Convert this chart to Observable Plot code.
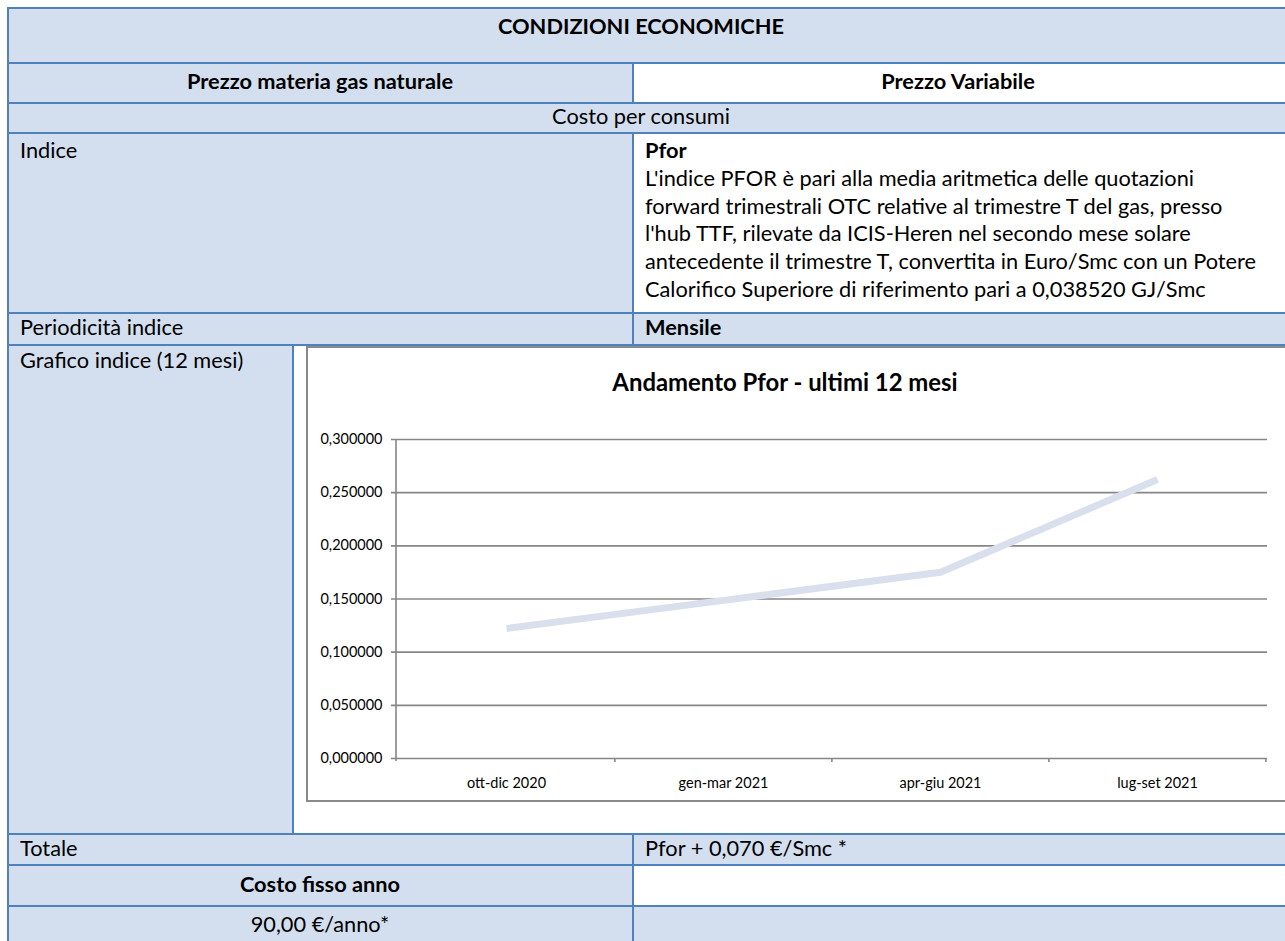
<!DOCTYPE html>
<html><head><meta charset="utf-8">
<script src="https://cdn.jsdelivr.net/npm/d3@7"></script>
<script src="https://cdn.jsdelivr.net/npm/@observablehq/plot@0.6"></script>
<style>
html,body{margin:0;padding:0;background:#fff;overflow:hidden;width:1285px;height:941px;}
#page{position:relative;width:1285px;height:941px;overflow:hidden;font-family:Lato,"Noto Sans",sans-serif;color:#000;}
.cell{position:absolute;box-sizing:border-box;border:2px solid #4f81bd;background:#d3dfee;}
.cell.w{background:#fff;}
.t{position:absolute;white-space:nowrap;}
#frame{position:absolute;box-sizing:border-box;border:2px solid #898989;background:#fff;}
#chart{position:absolute;}
</style></head><body><div id="page"></div>
<script>
// ---- data ----
const periods = ["ott-dic 2020", "gen-mar 2021", "apr-giu 2021", "lug-set 2021"];
const pforValues = [0.1223, 0.1487, 0.1752, 0.2624];
const yTickValues = [0, 0.05, 0.10, 0.15, 0.20, 0.25, 0.30];
const chartTitle = "Andamento Pfor - ultimi 12 mesi";
const headerTitle = "CONDIZIONI ECONOMICHE";
const headerLeft = "Prezzo materia gas naturale";
const headerRight = "Prezzo Variabile";
const sectionTitle = "Costo per consumi";
const rowLabels = ["Indice", "Periodicità indice", "Grafico indice (12 mesi)", "Totale"];
const indexName = "Pfor";
const indexDescription = [
  "L'indice PFOR è pari alla media aritmetica delle quotazioni",
  "forward trimestrali OTC relative al trimestre T del gas, presso",
  "l'hub TTF, rilevate da ICIS-Heren nel secondo mese solare",
  "antecedente il trimestre T, convertita in Euro/Smc con un Potere",
  "Calorifico Superiore di riferimento pari a 0,038520 GJ/Smc"
];
const periodicity = "Mensile";
const totalFormula = "Pfor + 0,070 €/Smc *";
const fixedCostLabel = "Costo fisso anno";
const fixedCostValue = "90,00 €/anno*";

// ---- helpers ----
const page = document.getElementById("page");
const FONT = "Lato";
function fit(text, weight, target) {
  const ctx = document.createElement("canvas").getContext("2d");
  ctx.font = `${weight} 100px ${FONT}`;
  return 100 * target / ctx.measureText(text).width;
}
const bodySize = fit(indexDescription[3], 400, 612);
const titleSize = fit(chartTitle, 700, 346);
const tickSize = (fit("0,300000", 400, 63) + fit("ott-dic 2020", 400, 78)) / 2;

function cell(x0, y0, x1, y1, white) {
  const d = document.createElement("div");
  d.className = "cell" + (white ? " w" : "");
  d.style.left = (x0 - 1) + "px";
  d.style.top = (y0 - 1) + "px";
  d.style.width = (x1 - x0 + 2) + "px";
  d.style.height = (y1 - y0 + 2) + "px";
  page.appendChild(d);
}
function text(str, x, y, opts = {}) {
  const size = opts.size || bodySize;
  const d = document.createElement("div");
  d.className = "t";
  d.textContent = str;
  d.style.fontSize = size + "px";
  d.style.fontWeight = opts.bold ? 700 : 400;
  d.style.lineHeight = size + "px";
  d.style.top = (y - size * 0.55) + "px";
  d.style.left = x + "px";
  if (opts.center) d.style.transform = "translateX(-50%)";
  page.appendChild(d);
}

// ---- table layout ----
const L = 8, M = 633, S = 293, R = 1292;
const Y = [8, 63, 103, 133, 313, 345, 834, 865, 906, 947];
cell(L, Y[0], R, Y[1]);
cell(L, Y[1], M, Y[2]); cell(M, Y[1], R, Y[2], true);
cell(L, Y[2], R, Y[3]);
cell(L, Y[3], M, Y[4]); cell(M, Y[3], R, Y[4], true);
cell(L, Y[4], M, Y[5]); cell(M, Y[4], R, Y[5]);
cell(L, Y[5], S, Y[6]); cell(S, Y[5], R, Y[6], true);
cell(L, Y[6], M, Y[7]); cell(M, Y[6], R, Y[7]);
cell(L, Y[7], M, Y[8]); cell(M, Y[7], R, Y[8], true);
cell(L, Y[8], M, Y[9]); cell(M, Y[8], R, Y[9]);

const PADL = 12;
text(headerTitle, 641, 28, {bold: true, center: true});
text(headerLeft, 320, 83, {bold: true, center: true});
text(headerRight, 958, 83, {bold: true, center: true});
text(sectionTitle, 641, 118, {center: true});
const lh = 27.8, top0 = 152;
text(rowLabels[0], L + PADL, top0);
text(indexName, M + PADL, top0, {bold: true});
indexDescription.forEach((s, i) => text(s, M + PADL, top0 + lh * (i + 1)));
text(rowLabels[1], L + PADL, 329);
text(periodicity, M + PADL, 329, {bold: true});
text(rowLabels[2], L + PADL, 362);
text(rowLabels[3], L + PADL, 850);
text(totalFormula, M + PADL, 850);
text(fixedCostLabel, 320, 886, {bold: true, center: true});
text(fixedCostValue, 320, 926, {center: true});

// ---- chart frame + title ----
const frame = document.createElement("div");
frame.id = "frame";
frame.style.left = "306px"; frame.style.top = "346px";
frame.style.width = "1100px"; frame.style.height = "456px";
page.appendChild(frame);
text(chartTitle, 785, 383, {bold: true, center: true, size: titleSize});

// ---- Plot chart ----
const data = periods.map((p, i) => ({period: p, value: pforValues[i]}));
const itFmt = d3.formatLocale({decimal: ",", thousands: ".", grouping: [3], currency: ["", " €"]}).format(".6f");
const GRID = "#868686";
const plot = Plot.plot({
  width: 976,
  height: 401,
  marginTop: 39,
  marginBottom: 43,
  marginLeft: 87,
  marginRight: 18,
  style: {fontFamily: FONT, fontSize: tickSize + "px", color: "#000", background: "transparent", overflow: "visible"},
  x: {type: "point", domain: periods, padding: 0.5, label: null, tickSize: 0, tickPadding: 19},
  y: {domain: [0, 0.3], ticks: yTickValues, tickFormat: itFmt, label: null, tickSize: 0, tickPadding: 14},
  marks: [
    Plot.ruleY(yTickValues, {y: d => d, stroke: GRID, strokeWidth: 1.6, insetLeft: -5}),
    Plot.line(data, {x: "period", y: "value", stroke: "#d9dfec", strokeWidth: 7, strokeLinecap: "butt", strokeLinejoin: "miter"})
  ]
});
const holder = document.createElement("div");
holder.id = "chart";
holder.style.left = "309px"; holder.style.top = "400px";
holder.appendChild(plot);
page.appendChild(holder);

// axis line and category-boundary ticks, positioned from Plot's own scales
const xs = plot.scale("x"), ys = plot.scale("y");
const step = (xs.range[1] - xs.range[0]) / periods.length;
const svg = d3.select(plot);
const y0 = ys.apply(0), yTop = ys.apply(0.3);
const g = svg.append("g").attr("stroke", GRID).attr("stroke-width", 1.6);
g.append("line").attr("x1", xs.range[0]).attr("x2", xs.range[0]).attr("y1", yTop).attr("y2", y0 + 3);
periods.forEach(p => {
  const bx = xs.apply(p) + step / 2;
  g.append("line").attr("x1", bx).attr("x2", bx).attr("y1", y0).attr("y2", y0 + 4);
});
</script></body></html>
